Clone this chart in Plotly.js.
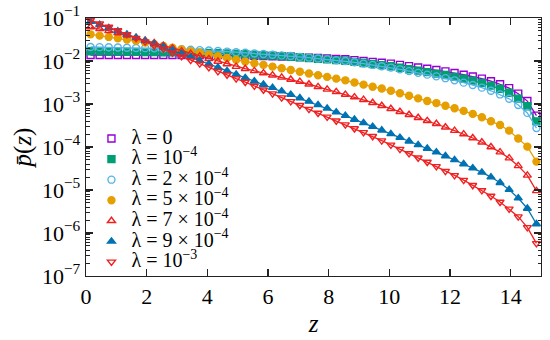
<!DOCTYPE html>
<html><head><meta charset="utf-8">
<script src="https://cdn.plot.ly/plotly-3.0.1.min.js"></script>
<style>html,body{margin:0;padding:0;background:#fff}#chart{width:550px;height:340px}</style>
</head><body><div id="chart"></div>
<script>
// z positions of the samples
const z = [0.15,0.45,0.75,1.05,1.35,1.65,1.95,2.25,2.55,2.85,3.15,3.45,3.75,4.05,4.35,4.65,4.95,5.25,5.55,5.85,6.15,6.45,6.75,7.05,7.35,7.65,7.95,8.25,8.55,8.85,9.15,9.45,9.75,10.05,10.35,10.65,10.95,11.25,11.55,11.85,12.15,12.45,12.75,13.05,13.35,13.65,13.95,14.25,14.55,14.85];

// p(z) for each lambda
const p_lam0 = [1.38e-2,1.38e-2,1.38e-2,1.38e-2,1.38e-2,1.38e-2,1.38e-2,1.38e-2,1.38e-2,1.38e-2,1.38e-2,1.38e-2,1.38e-2,1.38e-2,1.37e-2,
  1.36e-2,1.35e-2,1.33e-2,1.32e-2,1.30e-2,1.29e-2,1.27e-2,1.26e-2,1.23e-2,1.20e-2,1.17e-2,1.15e-2,1.12e-2,1.10e-2,1.05e-2,
  1.00e-2,9.55e-3,9.12e-3,8.71e-3,8.13e-3,7.59e-3,7.08e-3,6.61e-3,6.17e-3,5.75e-3,5.25e-3,4.79e-3,4.37e-3,3.89e-3,3.39e-3,
  2.88e-3,2.34e-3,1.74e-3,1.17e-3,5.37e-4];
const p_lam1e4 = [1.68e-2,1.67e-2,1.66e-2,1.65e-2,1.64e-2,1.63e-2,1.62e-2,1.61e-2,1.60e-2,1.59e-2,
  1.57e-2,1.56e-2,1.55e-2,1.53e-2,1.52e-2,1.49e-2,1.46e-2,1.43e-2,1.39e-2,1.36e-2,
  1.33e-2,1.30e-2,1.26e-2,1.22e-2,1.17e-2,1.13e-2,1.09e-2,1.05e-2,1.01e-2,9.55e-3,
  8.99e-3,8.49e-3,8.02e-3,7.57e-3,6.98e-3,6.44e-3,5.96e-3,5.51e-3,5.09e-3,4.71e-3,
  4.27e-3,3.86e-3,3.50e-3,3.10e-3,2.68e-3,2.26e-3,1.82e-3,1.33e-3,8.87e-4,3.94e-4];
const p_lam2e4 = [2.12e-2,2.10e-2,2.08e-2,2.06e-2,2.03e-2,2.01e-2,1.99e-2,1.97e-2,1.95e-2,1.91e-2,
  1.87e-2,1.82e-2,1.79e-2,1.75e-2,1.71e-2,1.65e-2,1.60e-2,1.55e-2,1.50e-2,1.45e-2,
  1.40e-2,1.35e-2,1.31e-2,1.25e-2,1.20e-2,1.14e-2,1.09e-2,1.04e-2,1.00e-2,9.33e-3,
  8.71e-3,8.11e-3,7.55e-3,7.03e-3,6.40e-3,5.82e-3,5.30e-3,4.82e-3,4.39e-3,3.99e-3,
  3.55e-3,3.14e-3,2.77e-3,2.40e-3,2.03e-3,1.67e-3,1.32e-3,9.48e-4,6.21e-4,2.75e-4];
const p_lam5e4 = [4.17e-2,3.89e-2,3.63e-2,3.39e-2,3.16e-2,2.95e-2,2.69e-2,2.45e-2,2.24e-2,2.04e-2,
  1.86e-2,1.70e-2,1.55e-2,1.41e-2,1.29e-2,1.17e-2,1.07e-2,9.77e-3,8.91e-3,8.13e-3,
  7.41e-3,6.76e-3,6.17e-3,5.62e-3,5.13e-3,4.68e-3,4.27e-3,3.89e-3,3.55e-3,3.16e-3,
  2.82e-3,2.51e-3,2.29e-3,2.04e-3,1.78e-3,1.55e-3,1.35e-3,1.17e-3,1.05e-3,9.12e-4,
  7.94e-4,6.92e-4,5.89e-4,4.90e-4,3.98e-4,3.24e-4,2.40e-4,1.58e-4,1.02e-4,4.57e-5];
const p_lam7e4 = [6.17e-2,5.62e-2,5.01e-2,4.47e-2,3.98e-2,3.47e-2,3.02e-2,2.63e-2,2.29e-2,2.00e-2,
  1.70e-2,1.48e-2,1.29e-2,1.12e-2,9.77e-3,8.51e-3,7.41e-3,6.61e-3,5.89e-3,5.25e-3,
  4.68e-3,4.17e-3,3.72e-3,3.31e-3,2.88e-3,2.51e-3,2.19e-3,1.91e-3,1.66e-3,1.45e-3,
  1.26e-3,1.07e-3,9.12e-4,7.76e-4,6.61e-4,5.62e-4,4.79e-4,4.07e-4,3.47e-4,2.88e-4,
  2.40e-4,2.00e-4,1.62e-4,1.29e-4,1.00e-4,7.59e-5,5.50e-5,3.63e-5,2.19e-5,9.55e-6];
const p_lam9e4 = [8.32e-2,7.00e-2,5.89e-2,4.95e-2,4.17e-2,3.51e-2,2.95e-2,2.48e-2,2.09e-2,1.76e-2,
  1.48e-2,1.23e-2,1.02e-2,8.51e-3,7.08e-3,5.89e-3,4.90e-3,4.07e-3,3.39e-3,2.85e-3,
  2.40e-3,2.00e-3,1.66e-3,1.38e-3,1.15e-3,9.55e-4,7.94e-4,6.46e-4,5.37e-4,4.37e-4,
  3.63e-4,2.99e-4,2.45e-4,2.02e-4,1.66e-4,1.36e-4,1.12e-4,9.23e-5,7.59e-5,6.17e-5,
  5.01e-5,4.03e-5,3.24e-5,2.57e-5,2.00e-5,1.48e-5,1.02e-5,6.46e-6,3.72e-6,1.62e-6];
const p_lam1e3 = [8.91e-2,7.41e-2,6.17e-2,5.13e-2,4.17e-2,3.39e-2,2.82e-2,2.29e-2,1.91e-2,1.55e-2,
  1.29e-2,1.05e-2,8.71e-3,7.08e-3,5.75e-3,4.79e-3,3.89e-3,3.24e-3,2.63e-3,2.14e-3,
  1.74e-3,1.41e-3,1.15e-3,9.33e-4,7.59e-4,6.17e-4,5.01e-4,4.07e-4,3.31e-4,2.69e-4,
  2.19e-4,1.78e-4,1.41e-4,1.12e-4,8.91e-5,7.08e-5,5.62e-5,4.47e-5,3.55e-5,2.75e-5,
  2.19e-5,1.70e-5,1.29e-5,9.77e-6,7.24e-6,5.25e-6,3.63e-6,2.40e-6,1.35e-6,5.75e-7];

const seriesNames = ['λ = 0','λ = 10<sup>−4</sup>','λ = 2 × 10<sup>−4</sup>','λ = 5 × 10<sup>−4</sup>','λ = 7 × 10<sup>−4</sup>','λ = 9 × 10<sup>−4</sup>','λ = 10<sup>−3</sup>'];
const seriesData = [p_lam0,p_lam1e4,p_lam2e4,p_lam5e4,p_lam7e4,p_lam9e4,p_lam1e3];
const colors = ['#9400D3','#009E73','#56B4E9','#E69F00','#F02020','#0072B2','#F02020'];
const symbols = ['square-open','square','circle-open','circle','triangle-up-open','triangle-up','triangle-down-open'];

const xTicks = [0,2,4,6,8,10,12,14];
const yTicks = [1e-7,1e-6,1e-5,1e-4,1e-3,1e-2,1e-1];
const yTickText = ['10<sup>−7</sup>','10<sup>−6</sup>','10<sup>−5</sup>','10<sup>−4</sup>','10<sup>−3</sup>','10<sup>−2</sup>','10<sup>−1</sup>'];

const minorY = [];
for (let e = -7; e < -1; e++) for (let m = 2; m <= 9; m++) minorY.push(m * Math.pow(10, e));

const FONT = 'Liberation Serif, serif';

const traces = [];
seriesData.forEach((d, i) => {
  traces.push({
    x: z, y: d, type: 'scatter', mode: 'lines+markers', showlegend: false,
    line: {color: colors[i], width: 1.3},
    marker: {symbol: symbols[i], color: colors[i], size: 7, line: {color: colors[i], width: 1.4}}
  });
});
seriesData.forEach((d, i) => {
  traces.push({
    x: [null], y: [null], type: 'scatter', mode: 'markers', name: '<span style="font-size:20px">' + seriesNames[i] + '</span>',
    marker: {symbol: symbols[i], color: colors[i], size: 7, line: {color: colors[i], width: 1.4}}
  });
});

const axCol = '#222';
const layout = {
  width: 550, height: 340,
  margin: {l: 86, r: 9, t: 18, b: 64},
  paper_bgcolor: '#fff', plot_bgcolor: '#fff',
  font: {family: FONT, size: 22, color: '#000'},
  showlegend: true,
  legend: {x: 0.012, xanchor: 'left', y: -0.005, yanchor: 'bottom', bgcolor: 'rgba(0,0,0,0)',
           font: {size: 13.5, family: FONT}, tracegroupgap: 0, itemwidth: 30},
  xaxis: {
    range: [0, 15], tickmode: 'array', tickvals: xTicks, ticks: 'inside', ticklen: 7, tickwidth: 1.2, tickcolor: axCol,
    showline: true, linecolor: axCol, linewidth: 1.3, mirror: 'allticks', showgrid: false, zeroline: false,
    tickfont: {size: 22, family: FONT},
    title: {text: '<i>z</i>', font: {size: 25, family: FONT}, standoff: 6}
  },
  yaxis: {
    type: 'log', range: [-7, -1], tickmode: 'array', tickvals: yTicks, ticktext: yTickText,
    ticks: 'inside', ticklen: 7, tickwidth: 1.2, tickcolor: axCol,
    minor: {tickmode: 'array', tickvals: minorY, ticks: 'inside', ticklen: 3.5, tickwidth: 1, tickcolor: axCol, showgrid: false},
    showline: true, linecolor: axCol, linewidth: 1.3, mirror: 'allticks', showgrid: false, zeroline: false,
    tickfont: {size: 22, family: FONT},
    title: {text: '<i>p̄</i>(<i>z</i>)', font: {size: 25, family: FONT}, standoff: 3}
  }
};

Plotly.newPlot('chart', traces, layout, {displayModeBar: false, staticPlot: true});
</script>
</body></html>
